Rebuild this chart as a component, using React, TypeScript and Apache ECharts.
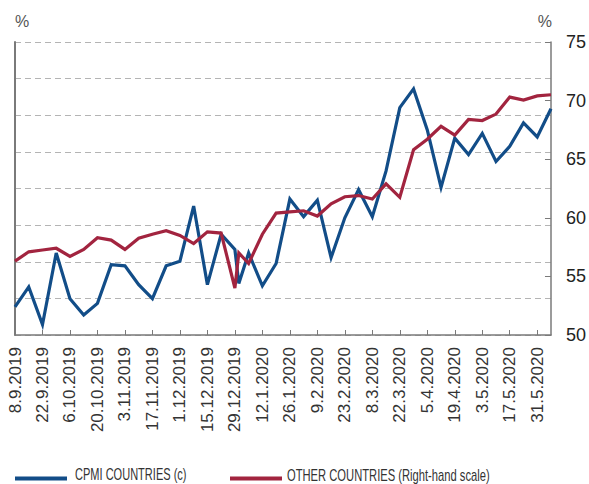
import React, { useEffect, useRef } from "react";
import * as echarts from "echarts";

// Observation dates (weekly, plus one extra year-end reading)
const DATES: string[] = [
  "2019-09-08", "2019-09-15", "2019-09-22", "2019-09-29", "2019-10-06",
  "2019-10-13", "2019-10-20", "2019-10-27", "2019-11-03", "2019-11-10",
  "2019-11-17", "2019-11-24", "2019-12-01", "2019-12-08", "2019-12-15",
  "2019-12-22", "2019-12-29", "2019-12-31", "2020-01-05", "2020-01-12",
  "2020-01-19", "2020-01-26", "2020-02-02", "2020-02-09", "2020-02-16",
  "2020-02-23", "2020-03-01", "2020-03-08", "2020-03-15", "2020-03-22",
  "2020-03-29", "2020-04-05", "2020-04-12", "2020-04-19", "2020-04-26",
  "2020-05-03", "2020-05-10", "2020-05-17", "2020-05-24", "2020-05-31",
  "2020-06-07",
];

// CPMI countries (left-hand scale), %
const CPMI: number[] = [
  52.4, 54.1, 50.9, 57.0, 53.1, 51.7, 52.7, 56.0, 55.9, 54.3,
  53.1, 55.9, 56.3, 61.0, 54.3, 58.6, 57.3, 54.4, 57.0, 54.2,
  56.1, 61.6, 60.1, 61.5, 56.6, 60.0, 62.4, 60.1, 64.0, 69.4,
  71.0, 67.5, 62.6, 66.8, 65.4, 67.2, 64.8, 66.1, 68.1, 66.9,
  69.3,
];

// Other countries (right-hand scale), %
const OTHER: number[] = [
  56.3, 57.1, 57.25, 57.4, 56.7, 57.3, 58.3, 58.1, 57.3, 58.25,
  58.6, 58.9, 58.5, 57.8, 58.8, 58.7, 54.0, 57.0, 56.1, 58.6,
  60.4, 60.5, 60.6, 60.15, 61.2, 61.8, 61.9, 61.6, 62.9, 61.75,
  65.8, 66.7, 67.8, 67.05, 68.4, 68.3, 68.85, 70.3, 70.05, 70.4,
  70.5,
];

const RIGHT_TICKS = { min: 50, max: 75, step: 5 };
const LEGEND_NAMES = ["CPMI COUNTRIES (c)", "OTHER COUNTRIES (Right-hand scale)"];

const DAY = 86400000;
const BASE = Date.UTC(2019, 8, 8);
const toDay = (iso: string) => {
  const [y, m, d] = iso.split("-").map(Number);
  return Math.round((Date.UTC(y, m - 1, d) - BASE) / DAY);
};
const LAST_DAY = toDay(DATES[DATES.length - 1]);

const BLUE = "#124d88";
const RED = "#a2243f";
const FONT = '"Liberation Sans", Arial, Helvetica, sans-serif';

export default function App() {
  const ref = useRef<HTMLDivElement>(null);
  useEffect(() => {
    if (!ref.current) return;
    const chart = echarts.init(ref.current, undefined, { renderer: "svg" });
    const blueData = DATES.map((d, i) => [toDay(d), CPMI[i]]);
    const redData = DATES.map((d, i) => [toDay(d), OTHER[i]]);
    chart.setOption({
      animation: false,
      backgroundColor: "#ffffff",
      textStyle: { fontFamily: FONT },
      grid: { left: 15, right: 36, top: 42, bottom: 149, containLabel: false },
      xAxis: {
        type: "value",
        min: 0,
        max: LAST_DAY,
        interval: 14,
        axisLine: { show: true, lineStyle: { color: "#7a7a7a", width: 1.5 } },
        axisTick: { show: true, inside: true, length: 5, lineStyle: { color: "#7a7a7a", width: 1 } },
        splitLine: { show: false },
        axisLabel: {
          rotate: 90,
          margin: 12,
          fontSize: 17,
          color: "#333333",
          fontFamily: FONT,
          showMaxLabel: false,
          formatter: (v: number) => {
            if (v % 14 !== 0) return "";
            const dt = new Date(BASE + v * DAY);
            return `${dt.getUTCDate()}.${dt.getUTCMonth() + 1}.${dt.getUTCFullYear()}`;
          },
        },
      },
      yAxis: [
        {
          type: "value",
          position: "left",
          min: 50,
          max: 75,
          interval: 3.125,
          axisLine: { show: true, lineStyle: { color: "#7a7a7a", width: 2 } },
          axisTick: { show: false },
          axisLabel: { show: false },
          splitLine: { show: true, lineStyle: { color: "#b4b4b4", width: 1, type: [6, 4] } },
        },
        {
          type: "value",
          position: "right",
          min: RIGHT_TICKS.min,
          max: RIGHT_TICKS.max,
          interval: RIGHT_TICKS.step,
          axisLine: { show: true, lineStyle: { color: "#7a7a7a", width: 1.5 } },
          axisTick: { show: true, inside: true, length: 6, lineStyle: { color: "#7a7a7a", width: 1 } },
          axisLabel: { margin: 15, fontSize: 18, color: "#222222", fontFamily: FONT },
          splitLine: { show: false },
        },
      ],
      series: [
        {
          name: LEGEND_NAMES[0],
          type: "line",
          yAxisIndex: 0,
          data: blueData,
          symbol: "none",
          lineStyle: { color: BLUE, width: 3.2, join: "miter" },
          itemStyle: { color: BLUE },
          z: 3,
        },
        {
          name: LEGEND_NAMES[1],
          type: "line",
          yAxisIndex: 1,
          data: redData,
          symbol: "none",
          lineStyle: { color: RED, width: 3.2, join: "miter" },
          itemStyle: { color: RED },
          z: 4,
        },
      ],
      graphic: [
        { type: "text", x: 15, y: 13, style: { text: "%", font: `16px ${FONT}`, fill: "#555555" } },
        { type: "text", x: 552, y: 13, style: { text: "%", font: `16px ${FONT}`, fill: "#555555", align: "right" } },
        { type: "rect", shape: { x: 15, y: 476.5, width: 52, height: 4 }, style: { fill: BLUE } },
        {
          type: "text", x: 75, y: 467, scaleX: 0.69,
          style: { text: LEGEND_NAMES[0], font: `16px ${FONT}`, fill: "#333333" },
        },
        { type: "rect", shape: { x: 230, y: 476.5, width: 52, height: 4 }, style: { fill: RED } },
        {
          type: "text", x: 287, y: 467, scaleX: 0.7,
          style: { text: LEGEND_NAMES[1], font: `16px ${FONT}`, fill: "#333333" },
        },
      ],
    });
    return () => chart.dispose();
  }, []);
  return (
    <div
      ref={ref}
      style={{ position: "fixed", left: 0, top: 0, width: 589, height: 484, background: "#fff" }}
    />
  );
}
